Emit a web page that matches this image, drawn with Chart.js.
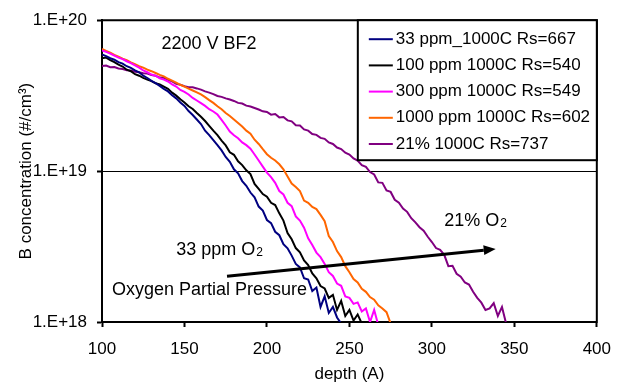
<!DOCTYPE html>
<html><head><meta charset="utf-8">
<script src="https://cdn.jsdelivr.net/npm/chart.js@4.4.0/dist/chart.umd.min.js"></script>
<style>html,body{margin:0;padding:0;background:#fff;overflow:hidden}#wrap{width:623px;height:385px;position:relative}</style>
</head><body><div id="wrap"><canvas id="c" width="623" height="385"></canvas></div>
<script>
// depth grid (A)
const depth = [100,102.5,105,107.5,110,112.5,115,117.5,120,122.5,
 125,127.5,130,132.5,135,137.5,140,142.5,145,147.5,
 150,152.5,155,157.5,160,162.5,165,167.5,170,172.5,
 175,177.5,180,182.5,185,187.5,190,192.5,195,197.5,
 200,202.5,205,207.5,210,212.5,215,217.5,220,222.5,
 225,227.5,230,232.5,235,237.5,240,242.5,245,247.5,
 250,252.5,255,257.5,260,262.5,265,267.5,270,272.5,
 275,277.5,280,282.5,285,287.5,290,292.5,295,297.5,
 300,302.5,305,307.5,310,312.5,315,317.5,320,322.5,
 325,327.5,330,332.5,335,337.5,340,342.5,345];

// log10 of B concentration (#/cm3)
const log33ppm = [19.773,19.762,19.748,19.738,19.722,19.712,19.695,19.684,19.668,19.655,
 19.632,19.617,19.598,19.583,19.565,19.545,19.528,19.503,19.482,19.455,
 19.432,19.398,19.372,19.342,19.312,19.268,19.238,19.205,19.172,19.137,
 19.094,19.062,19.012,18.985,18.934,18.903,18.858,18.826,18.765,18.738,
 18.676,18.655,18.598,18.575,18.515,18.488,18.44,18.385,18.362,18.29,
 18.282,18.205,18.228,18.10,18.17,18.06,18.10,18.03,17.99];
const log100ppm = [19.748,19.752,19.735,19.722,19.705,19.693,19.672,19.662,19.642,19.632,
 19.618,19.606,19.596,19.582,19.575,19.56,19.545,19.52,19.5,19.476,
 19.455,19.43,19.412,19.385,19.36,19.332,19.3,19.268,19.238,19.202,
 19.17,19.125,19.108,19.065,19.04,19.005,18.98,18.915,18.882,18.848,
 18.83,18.79,18.775,18.72,18.672,18.59,18.548,18.49,18.462,18.408,
 18.378,18.322,18.29,18.238,18.222,18.16,18.18,18.08,18.14,18.04,
 18.08,18.01,18.05,17.99];
const log300ppm = [19.80,19.79,19.778,19.765,19.752,19.742,19.728,19.716,19.70,19.686,
 19.668,19.655,19.64,19.632,19.615,19.606,19.594,19.575,19.56,19.538,
 19.525,19.508,19.485,19.468,19.45,19.432,19.41,19.395,19.375,19.34,
 19.302,19.262,19.238,19.218,19.19,19.172,19.148,19.11,19.07,19.03,
 18.99,18.96,18.922,18.868,18.845,18.79,18.768,18.70,18.672,18.625,
 18.555,18.51,18.46,18.43,18.385,18.33,18.305,18.255,18.24,18.17,
 18.16,18.12,18.13,18.07,18.09,18.0,18.08,17.98];
const log1000ppm = [19.81,19.797,19.785,19.77,19.758,19.745,19.735,19.72,19.708,19.695,
 19.686,19.672,19.662,19.65,19.638,19.628,19.612,19.6,19.586,19.572,
 19.56,19.546,19.534,19.522,19.508,19.49,19.47,19.452,19.43,19.41,
 19.385,19.365,19.342,19.318,19.295,19.268,19.248,19.208,19.18,19.145,
 19.112,19.088,19.07,19.045,19.012,18.965,18.918,18.895,18.868,18.805,
 18.79,18.762,18.748,18.71,18.668,18.57,18.53,18.47,18.43,18.37,
 18.33,18.285,18.262,18.22,18.2,18.165,18.148,18.11,18.09,18.065,
 17.99];
const log21pct = [19.696,19.70,19.688,19.69,19.68,19.676,19.668,19.666,19.658,19.655,
 19.648,19.646,19.636,19.632,19.62,19.618,19.605,19.595,19.578,19.572,
 19.562,19.556,19.555,19.548,19.54,19.528,19.52,19.51,19.498,19.492,
 19.482,19.474,19.465,19.452,19.448,19.434,19.428,19.418,19.408,19.396,
 19.392,19.374,19.378,19.356,19.358,19.336,19.33,19.304,19.302,19.276,
 19.268,19.246,19.24,19.22,19.214,19.19,19.18,19.156,19.146,19.122,
 19.11,19.084,19.07,19.04,19.028,18.994,18.978,18.925,18.922,18.872,
 18.862,18.81,18.79,18.752,18.73,18.688,18.66,18.628,18.605,18.565,
 18.53,18.49,18.478,18.445,18.37,18.372,18.32,18.3,18.262,18.248,
 18.2,18.16,18.128,18.08,18.09,18.125,18.04,18.1,17.99];

const seriesLabels = ['33 ppm_1000C Rs=667','100 ppm 1000C Rs=540','300 ppm 1000C Rs=549','1000 ppm 1000C Rs=602','21% 1000C Rs=737'];
const seriesLogs = [log33ppm, log100ppm, log300ppm, log1000ppm, log21pct];
const seriesColors = ['#000080','#000000','#FF00FF','#FF6600','#800080'];

const xTicks = [100,150,200,250,300,350,400];
const yTicks = [1e18,1e19,1e20];
const yTickLabels = ['1.E+18','1.E+19','1.E+20'];

const xTitle = 'depth (A)';
const yTitle = 'B concentration (#/cm\u00B3)';

// text annotations (data coordinates)
const notes = [
  {text:'2200 V BF2', sub:'', x:136, y:7.0e19},
  {text:'33 ppm O', sub:'2', x:145, y:3.0e18},
  {text:'Oxygen Partial Pressure', sub:'', x:106, y:1.64e18},
  {text:'21% O', sub:'2', x:307.5, y:4.7e18}
];
const arrowFrom = {x:175.8, y:2.01e18};
const arrowTo = {x:338.7, y:3.05e18};

const FONT = '"Liberation Sans", Arial, sans-serif';

const datasets = seriesLogs.map((arr, k) => ({
  label: seriesLabels[k],
  data: arr.map((v, i) => ({x: depth[i], y: Math.pow(10, v)})),
  borderColor: seriesColors[k],
  backgroundColor: seriesColors[k],
  borderWidth: 2,
  pointRadius: 0,
  fill: false,
  tension: 0
}));

const decor = {
  id: 'decor',
  afterDatasetsDraw(chart) {
    const ctx = chart.ctx, ca = chart.chartArea;
    const xs = chart.scales.x, ys = chart.scales.y;
    ctx.save();
    // frame top & right
    ctx.strokeStyle = '#000'; ctx.lineWidth = 2;
    ctx.beginPath();
    ctx.moveTo(ca.left - 1, ca.top); ctx.lineTo(ca.right, ca.top); ctx.lineTo(ca.right, ca.bottom + 1);
    ctx.stroke();
    // arrow
    const x1 = xs.getPixelForValue(arrowFrom.x), y1 = ys.getPixelForValue(arrowFrom.y);
    const x2 = xs.getPixelForValue(arrowTo.x), y2 = ys.getPixelForValue(arrowTo.y);
    const ang = Math.atan2(y2 - y1, x2 - x1);
    const hl = 12, hw = 5;
    const bx = x2 - hl * Math.cos(ang), by = y2 - hl * Math.sin(ang);
    ctx.lineWidth = 3;
    ctx.beginPath(); ctx.moveTo(x1, y1); ctx.lineTo(bx, by); ctx.stroke();
    ctx.fillStyle = '#000';
    ctx.beginPath();
    ctx.moveTo(x2, y2);
    ctx.lineTo(bx + hw * Math.sin(ang), by - hw * Math.cos(ang));
    ctx.lineTo(bx - hw * Math.sin(ang), by + hw * Math.cos(ang));
    ctx.closePath(); ctx.fill();
    // annotations
    ctx.fillStyle = '#000'; ctx.textAlign = 'left'; ctx.textBaseline = 'middle';
    notes.forEach(n => {
      const px = xs.getPixelForValue(n.x), py = ys.getPixelForValue(n.y);
      ctx.font = '18px ' + FONT;
      ctx.fillText(n.text, px, py);
      if (n.sub) {
        const w = ctx.measureText(n.text).width;
        ctx.font = '12px ' + FONT;
        ctx.fillText(n.sub, px + w + 1, py + 3);
      }
    });
    // legend box
    const lx = ca.right - 239, ly = ca.top, lw = 239, lh = 140;
    ctx.fillStyle = '#fff';
    ctx.fillRect(lx, ly, lw, lh);
    ctx.strokeStyle = '#000'; ctx.lineWidth = 2;
    ctx.strokeRect(lx, ly, lw, lh);
    ctx.font = '17px ' + FONT;
    chart.data.datasets.forEach((ds, i) => {
      const ry = ly + 19 + i * 26.2;
      ctx.strokeStyle = ds.borderColor; ctx.lineWidth = 2;
      ctx.beginPath(); ctx.moveTo(lx + 11, ry); ctx.lineTo(lx + 35, ry); ctx.stroke();
      ctx.fillStyle = '#000';
      ctx.fillText(ds.label, lx + 38, ry);
    });
    ctx.restore();
  }
};

new Chart(document.getElementById('c'), {
  type: 'line',
  data: {datasets},
  options: {
    responsive: false,
    animation: false,
    devicePixelRatio: 1,
    layout: {padding: {left: 0, top: 13, right: 22, bottom: 0}},
    plugins: {legend: {display: false}, tooltip: {enabled: false}},
    scales: {
      x: {
        type: 'linear', min: 100, max: 400,
        afterFit(s) { s.height = 63; },
        afterBuildTicks(s) { s.ticks = xTicks.map(v => ({value: v})); },
        border: {display: true, color: '#000', width: 2},
        grid: {drawOnChartArea: false, color: '#000', tickLength: 5, tickWidth: 2, tickColor: '#000'},
        ticks: {color: '#000', font: {family: FONT, size: 17}, padding: 12, maxRotation: 0, autoSkip: false},
        title: {display: true, text: xTitle, color: '#000', font: {family: FONT, size: 17}, padding: {top: 0, bottom: 0}}
      },
      y: {
        type: 'logarithmic', min: 1e18, max: 1e20,
        afterFit(s) { s.width = 102; },
        afterBuildTicks(s) { s.ticks = yTicks.map(v => ({value: v})); },
        border: {display: true, color: '#000', width: 2},
        grid: {drawOnChartArea: true, color: '#000', lineWidth: 1, tickLength: 5, tickWidth: 2, tickColor: '#000'},
        ticks: {color: '#000', font: {family: FONT, size: 17}, padding: 10,
          callback: (v) => { const i = yTicks.indexOf(v); return i >= 0 ? yTickLabels[i] : ''; }},
        title: {display: true, text: yTitle, color: '#000', font: {family: FONT, size: 17}, padding: {top: 16, bottom: 0}}
      }
    }
  },
  plugins: [decor]
});
</script>
</body></html>
